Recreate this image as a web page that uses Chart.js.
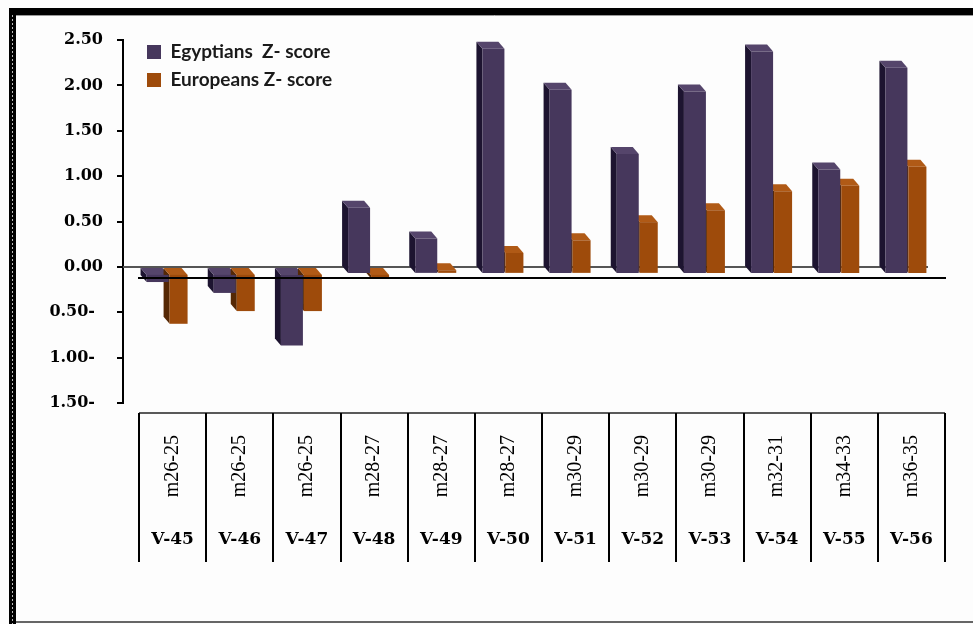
<!DOCTYPE html>
<html>
<head>
<meta charset="utf-8">
<script src="https://cdn.jsdelivr.net/npm/chart.js@4/dist/chart.umd.min.js"></script>
<style>
  html, body { margin: 0; padding: 0; background: #fff; }
  #wrap { width: 973px; height: 624px; position: relative; }
</style>
</head>
<body>
<div id="wrap"><canvas id="c" width="973" height="624"></canvas></div>
<script>
// Variant codes (rotated row) and variant names (bottom row)
const codes = ['m26-25', 'm26-25', 'm26-25', 'm28-27', 'm28-27', 'm28-27',
               'm30-29', 'm30-29', 'm30-29', 'm32-31', 'm34-33', 'm36-35'];
const variants = ['V-45', 'V-46', 'V-47', 'V-48', 'V-49', 'V-50',
                  'V-51', 'V-52', 'V-53', 'V-54', 'V-55', 'V-56'];

// Z-scores per variant
const egyptians = [-0.09, -0.21, -0.79, 0.73, 0.39, 2.48, 2.03, 1.32, 2.01, 2.45, 1.15, 2.27];
const europeans = [-0.55, -0.41, -0.41, -0.05, 0.04, 0.23, 0.37, 0.57, 0.70, 0.91, 0.97, 1.18];

// Value axis range
const yMin = -1.5;
const yMax = 2.5;
const yStep = 0.5;

// Empty third slot: the depth shift moves each pair to the right,
// so the pair is laid out left of the column centre.
const spacer = variants.map(() => null);

const DEPTH = { dx: 6, dy: 7 };
const shade = [
  { side: '#1d1430', cap: '#55456b' },
  { side: '#552805', cap: '#b05a16' }
];

function poly(ctx, pts) {
  ctx.beginPath();
  ctx.moveTo(pts[0][0], pts[0][1]);
  for (let i = 1; i < pts.length; i++) ctx.lineTo(pts[i][0], pts[i][1]);
  ctx.closePath();
  ctx.fill();
}

// Page frame and white background
const framePlugin = {
  id: 'frame',
  beforeDraw(chart) {
    const ctx = chart.ctx;
    ctx.save();
    ctx.fillStyle = '#fdfdfd';
    ctx.fillRect(0, 0, chart.width, chart.height);
    ctx.fillStyle = '#000';
    ctx.fillRect(9, 8, chart.width - 9, 7);
    ctx.fillRect(9, 8, 7, chart.height - 8);
    ctx.strokeStyle = '#bbb';
    ctx.lineWidth = 1;
    ctx.setLineDash([2, 2]);
    ctx.beginPath(); ctx.moveTo(12.5, 15); ctx.lineTo(12.5, chart.height); ctx.stroke();
    ctx.setLineDash([]);
    ctx.strokeStyle = '#999';
    ctx.beginPath(); ctx.moveTo(16, 15.5); ctx.lineTo(chart.width, 15.5); ctx.stroke();
    ctx.strokeStyle = '#666';
    ctx.lineWidth = 2;
    ctx.beginPath(); ctx.moveTo(16, 622); ctx.lineTo(chart.width, 622); ctx.stroke();
    ctx.restore();
  }
};

// Keep the legend inside the plot, just under its top edge
const legendPlace = {
  id: 'legendPlace',
  afterLayout(chart) {
    const lg = chart.legend;
    if (!lg) return;
    const a = chart.chartArea;
    const h = lg.bottom - lg.top;
    lg.left = a.left - 1;
    lg.top = a.top - 6.5;
    lg.bottom = lg.top + h;
  }
};

// 3-D look: the scale gives the back face; sides and caps are drawn
// first, then the front faces are drawn shifted by the depth offset.
const depthPlugin = {
  id: 'depth',
  beforeDatasetsDraw(chart) {
    const ctx = chart.ctx;
    const ys = chart.scales.y;
    const y0 = ys.getPixelForValue(0);
    ctx.save();
    ctx.strokeStyle = '#555';
    ctx.lineWidth = 2;
    ctx.beginPath();
    ctx.moveTo(ys.right, y0);
    ctx.lineTo(chart.chartArea.right - 17, y0);
    ctx.stroke();
    [0, 1].forEach(i => {
      const meta = chart.getDatasetMeta(i);
      meta.data.forEach(bar => {
        const p = bar.getProps(['x', 'y', 'base', 'width'], true);
        if (p.y == null || isNaN(p.y)) return;
        const L = p.x - p.width / 2, R = p.x + p.width / 2;
        const T = Math.min(p.y, p.base), B = Math.max(p.y, p.base);
        const { dx, dy } = DEPTH;
        ctx.fillStyle = shade[i].side;
        poly(ctx, [[L, T], [L + dx, T + dy], [L + dx, B + dy], [L, B]]);
        ctx.fillStyle = shade[i].cap;
        poly(ctx, [[L, T], [R, T], [R + dx, T + dy], [L + dx, T + dy]]);
      });
    });
    ctx.restore();
  },
  beforeDatasetDraw(chart, args) {
    if (args.index < 2) {
      chart.ctx.save();
      chart.ctx.translate(DEPTH.dx, DEPTH.dy);
    }
  },
  afterDatasetDraw(chart, args) {
    if (args.index < 2) chart.ctx.restore();
  },
  afterDatasetsDraw(chart) {
    const ctx = chart.ctx;
    const y0 = chart.scales.y.getPixelForValue(0) + 11;
    ctx.save();
    ctx.strokeStyle = '#000';
    ctx.lineWidth = 2;
    ctx.beginPath();
    ctx.moveTo(chart.chartArea.left - 1, y0);
    ctx.lineTo(chart.chartArea.right + 1, y0);
    ctx.stroke();
    ctx.restore();
  }
};

// Table under the plot: top rule and column separators
const tablePlugin = {
  id: 'table',
  afterDraw(chart) {
    const ctx = chart.ctx;
    const xs = chart.scales.x;
    const n = variants.length;
    const w = (xs.right - xs.left) / n;
    const top = chart.chartArea.bottom + 10;
    const bottom = 562;
    ctx.save();
    ctx.strokeStyle = '#222';
    ctx.lineWidth = 1.5;
    ctx.beginPath();
    ctx.moveTo(xs.left, top);
    ctx.lineTo(xs.right, top);
    ctx.stroke();
    ctx.strokeStyle = '#000';
    ctx.lineWidth = 2;
    for (let i = 0; i <= n; i++) {
      const px = Math.round(xs.left + i * w);
      ctx.beginPath();
      ctx.moveTo(px, top);
      ctx.lineTo(px, bottom);
      ctx.stroke();
    }
    ctx.restore();
  }
};

const catPct = 63 / 67.17;

new Chart(document.getElementById('c'), {
  type: 'bar',
  data: {
    labels: variants,
    datasets: [
      {
        label: 'Egyptians  Z- score',
        data: egyptians,
        backgroundColor: '#46375c',
        borderWidth: 0,
        categoryPercentage: catPct,
        barPercentage: 22 / 21
      },
      {
        label: 'Europeans Z- score',
        data: europeans,
        backgroundColor: '#9e4b0b',
        borderWidth: 0,
        categoryPercentage: catPct,
        barPercentage: 18 / 21
      },
      {
        label: '',
        data: spacer,
        backgroundColor: 'rgba(0,0,0,0)',
        borderWidth: 0,
        categoryPercentage: catPct,
        barPercentage: 1
      }
    ]
  },
  options: {
    responsive: false,
    animation: false,
    layout: { padding: { left: 20, right: 28, top: 40, bottom: 62 } },
    plugins: {
      tooltip: { enabled: false },
      legend: {
        position: 'chartArea',
        align: 'start',
        labels: {
          filter: item => item.text !== '',
          boxWidth: 14,
          boxHeight: 14,
          padding: 9,
          color: '#1a1a1a',
          font: { family: 'Lato', weight: 'bold', size: 19 }
        }
      }
    },
    scales: {
      y: {
        position: 'left',
        weight: 1,
        min: yMin,
        max: yMax,
        ticks: {
          stepSize: yStep,
          color: '#000',
          padding: 14,
          font: { family: 'DejaVu Serif', weight: 'bold', size: 16 },
          callback: v => v < 0 ? Math.abs(v).toFixed(2) + '-\u2002' : Number(v).toFixed(2)
        },
        grid: { drawOnChartArea: false, drawTicks: true, tickLength: 6, color: '#000', lineWidth: 2 },
        border: { display: true, color: '#000', width: 2 },
        afterFit: s => { s.width = 103; }
      },
      gap: {
        type: 'linear',
        position: 'left',
        weight: 0,
        ticks: { display: false },
        grid: { display: false },
        border: { display: false },
        afterFit: s => { s.width = 16; }
      },
      x: {
        type: 'category',
        position: 'bottom',
        weight: 0,
        labels: codes,
        offset: true,
        grid: { display: false },
        border: { display: false },
        ticks: {
          autoSkip: false,
          minRotation: 90,
          maxRotation: 90,
          padding: 24,
          color: '#000',
          font: { family: 'Liberation Serif', size: 20 }
        },
        afterFit: s => { s.height = 100; }
      },
      xv: {
        type: 'category',
        position: 'bottom',
        weight: 1,
        labels: variants,
        offset: true,
        grid: { display: false },
        border: { display: false },
        ticks: {
          autoSkip: false,
          minRotation: 0,
          maxRotation: 0,
          padding: 18,
          color: '#000',
          font: { family: 'DejaVu Serif', weight: 'bold', size: 17 }
        },
        afterFit: s => { s.height = 59; }
      }
    }
  },
  plugins: [framePlugin, legendPlace, depthPlugin, tablePlugin]
});
</script>
</body>
</html>
